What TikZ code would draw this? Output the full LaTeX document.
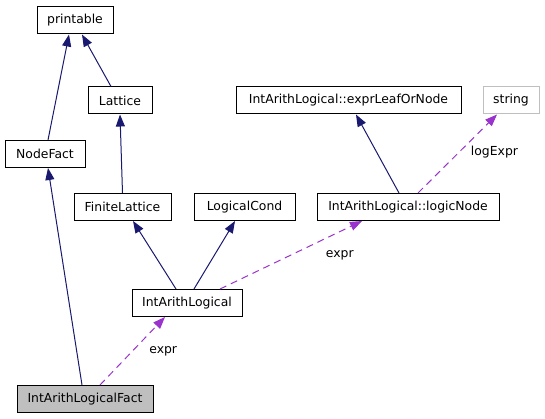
\documentclass[tikz,border=0pt]{standalone}
\usepackage{fontspec}
\setmainfont{DejaVu Sans}
\usetikzlibrary{arrows.meta, positioning}
\definecolor{dxNavy}{HTML}{191970}
\definecolor{dxPurple}{HTML}{9A32CD}
\definecolor{dxGrey}{HTML}{BFBFBF}
\tikzset{
  cls/.style      = {draw=black, line width=1pt, minimum height=27pt,
                     inner xsep=0pt, font=\fontsize{12.4}{14}\selectfont},
  clsfocus/.style = {cls, fill=dxGrey},
  clsext/.style   = {cls, draw=dxGrey},
  inherit/.style  = {dxNavy, line width=1pt,
                     -{Triangle[length=12pt, width=9pt]}},
  usage/.style    = {dxPurple, line width=1pt, dash pattern=on 7pt off 5pt,
                     -{Triangle[length=12pt, width=9pt]}},
  elbl/.style     = {text=black, font=\fontsize{12.4}{14}\selectfont},
}
\begin{document}
\begin{tikzpicture}[x=1pt, y=-1pt]
  \useasboundingbox (0,0) rectangle (545,419);

  % classes
  \node[cls, minimum width=76pt]       (printable)  at (75,20.5)   {printable};
  \node[cls, minimum width=64pt]       (lattice)    at (120,100.5) {Lattice};
  \node[cls, minimum width=80pt]       (nodefact)   at (45,154)    {NodeFact};
  \node[cls, minimum width=225pt]      (leafornode) at (348.5,100.5) {IntArithLogical::exprLeafOrNode};
  \node[clsext, minimum width=56pt]    (string)     at (511,100.5) {string};
  \node[cls, minimum width=97pt]       (finitelat)  at (122.5,207) {FiniteLattice};
  \node[cls, minimum width=101pt]      (logicalcond) at (244.5,207) {LogicalCond};
  \node[cls, minimum width=182pt]      (logicnode)  at (408,207)   {IntArithLogical::logicNode};
  \node[cls, minimum width=110pt]      (intarith)   at (187,303)   {IntArithLogical};
  \node[clsfocus, minimum width=136pt] (fact)       at (85,399)    {IntArithLogicalFact};

  % inheritance
  \draw[inherit] ([xshift=3pt]nodefact.north)    -- ([xshift=-6pt]printable.south);
  \draw[inherit] ([xshift=-9pt]lattice.north)    -- ([xshift=7pt]printable.south);
  \draw[inherit] (finitelat.north)               -- (lattice.south);
  \draw[inherit] ([xshift=-3pt]fact.north)       -- ([xshift=3pt]nodefact.south);
  \draw[inherit] ([xshift=-11pt]intarith.north)  -- ([xshift=10.5pt]finitelat.south);
  \draw[inherit] ([xshift=7pt]intarith.north)    -- ([xshift=-9.5pt]logicalcond.south);
  \draw[inherit] ([xshift=-9pt]logicnode.north)  -- ([xshift=7.5pt]leafornode.south);

  % usage
  \draw[usage] ([xshift=33pt]intarith.north) -- ([xshift=-46pt]logicnode.south)
    node[elbl, pos=0.74, below right=8pt and -3pt] (lblexpr1) {expr};
  \draw[usage] ([xshift=10pt]logicnode.north) -- ([xshift=-14pt]string.south)
    node[elbl, pos=0.52, right=8pt] (lbllog) {logExpr};
  \draw[usage] ([xshift=15pt]fact.north) -- ([xshift=-22pt]intarith.south)
    node[elbl, pos=0.5, right=13pt] (lblexpr2) {expr};
\end{tikzpicture}
\end{document}
